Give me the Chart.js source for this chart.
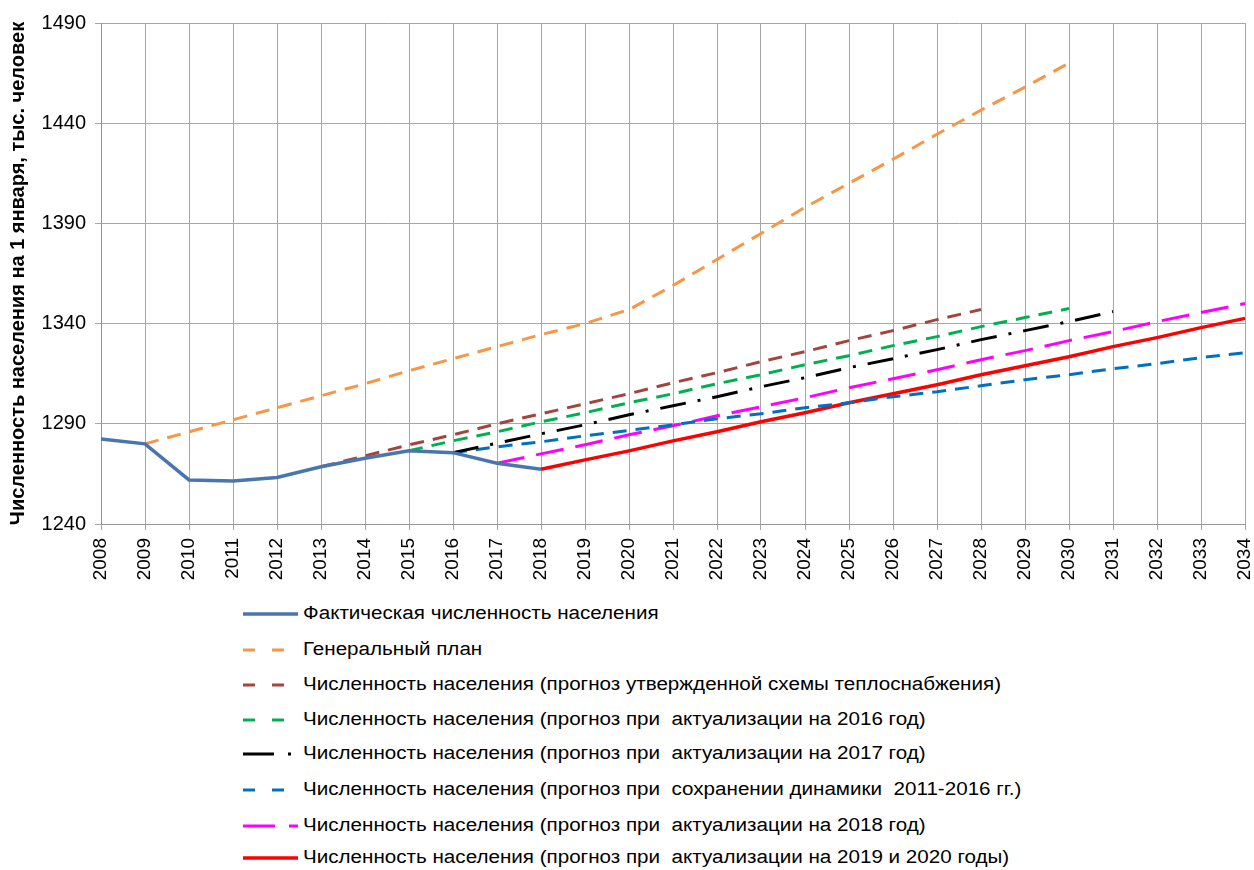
<!DOCTYPE html>
<html>
<head>
<meta charset="utf-8">
<script src="https://cdn.jsdelivr.net/npm/chart.js@4"></script>
<style>
  body { margin: 0; background: #fff; font-family: "Liberation Sans", Arial, sans-serif; }
  #wrap { position: absolute; left: 0; top: 0; width: 1254px; height: 590px; }
  #legend { position: absolute; left: 0; top: 0; }
  .row { position: absolute; left: 240px; height: 24px; white-space: pre; font-size: 18px; color: #000; }
  .row svg { position: absolute; left: 0; top: 6px; }
  .row span { position: absolute; left: 63px; top: 1px; transform: scaleX(1.145); transform-origin: 0 0; }
</style>
</head>
<body>
<div id="wrap"><canvas id="myChart"></canvas></div>
<div id="legend"></div>
<script>
  const years = [2008, 2009, 2010, 2011, 2012, 2013, 2014, 2015, 2016, 2017, 2018, 2019, 2020, 2021,
    2022, 2023, 2024, 2025, 2026, 2027, 2028, 2029, 2030, 2031, 2032, 2033, 2034]
  const yTicks = [1240, 1290, 1340, 1390, 1440, 1490]

  // each series: first year + values
  const actualStart = 2008
  const actual = [1282.4, 1280, 1262, 1261.5, 1263.2, 1268.6, 1272.8, 1276.6, 1275.6, 1270.3, 1267.3]

  const genplanStart = 2009
  const genplan = [1280, 1286, 1292, 1298, 1304, 1310, 1316.5, 1322.5, 1328.5, 1334.5, 1340, 1347,
    1359, 1372, 1385, 1398, 1410, 1422, 1434.5, 1446.5, 1458, 1470]

  const schemeStart = 2013
  const scheme = [1268.6, 1274, 1279.5, 1284.5, 1290, 1295, 1300, 1305, 1310.5, 1315.5, 1321, 1326,
    1331.5, 1336.5, 1342, 1347]

  const upd2016Start = 2015
  const upd2016 = [1276.6, 1281.5, 1286, 1291, 1295.5, 1300.5, 1305, 1310, 1314.5, 1319.5, 1324, 1329,
    1333.5, 1338.5, 1343, 1347.5]

  const upd2017Start = 2016
  const upd2017 = [1275.6, 1280.3, 1285, 1289.5, 1294.5, 1299, 1303.5, 1308.5, 1313, 1318, 1322.5, 1327,
    1332, 1336.5, 1341, 1346]

  const dynStart = 2016
  const dyn = [1275.6, 1278.5, 1281, 1284, 1286.7, 1289.5, 1292.5, 1295, 1298, 1300.5, 1303.5, 1306,
    1309, 1312, 1314.5, 1317.5, 1320, 1323, 1325.5]

  const upd2018Start = 2017
  const upd2018 = [1270.3, 1275, 1279.5, 1284.5, 1289, 1294, 1298.5, 1303, 1308, 1312.5, 1317, 1322,
    1326.5, 1331.5, 1336, 1341, 1345.5, 1350]

  const upd2019Start = 2018
  const upd2019 = [1267.3, 1272, 1276.5, 1281.5, 1286, 1291, 1295.5, 1300.5, 1305, 1309.5, 1314.5, 1319,
    1323.5, 1328.5, 1333, 1338, 1342.6]

  const seriesNames = [
    "Фактическая численность населения",
    "Генеральный план",
    "Численность населения (прогноз утвержденной схемы теплоснабжения)",
    "Численность населения (прогноз при  актуализации на 2016 год)",
    "Численность населения (прогноз при  актуализации на 2017 год)",
    "Численность населения (прогноз при  сохранении динамики  2011-2016 гг.)",
    "Численность населения (прогноз при  актуализации на 2018 год)",
    "Численность населения (прогноз при  актуализации на 2019 и 2020 годы)"
  ]

  function place(start, values) {
    return years.map(y => {
      const i = y - start
      return i >= 0 && i < values.length ? values[i] : null
    })
  }

  const styles = [
    { color: "#4a76ad", dash: [], width: 3.5, legend: "" },
    { color: "#f79646", dash: [14, 9], width: 3, legend: "12 17" },
    { color: "#a3453f", dash: [14, 9], width: 3, legend: "12 17" },
    { color: "#00b050", dash: [14, 9], width: 3, legend: "12 17" },
    { color: "#000000", dash: [26, 12, 3, 12], width: 3, legend: "31 14 3 20" },
    { color: "#0070c0", dash: [14, 9], width: 3, legend: "12 17" },
    { color: "#ff00ff", dash: [28, 12], width: 3, legend: "32 14" },
    { color: "#ff0000", dash: [], width: 3.5, legend: "" }
  ]

  const seriesData = [
    place(actualStart, actual),
    place(genplanStart, genplan),
    place(schemeStart, scheme),
    place(upd2016Start, upd2016),
    place(upd2017Start, upd2017),
    place(dynStart, dyn),
    place(upd2018Start, upd2018),
    place(upd2019Start, upd2019)
  ]

  const datasets = seriesData.map((d, i) => ({
    label: seriesNames[i],
    data: d,
    borderColor: styles[i].color,
    borderWidth: styles[i].width,
    borderDash: styles[i].dash,
    pointRadius: 0,
    fill: false,
    tension: 0,
    spanGaps: false
  }))

  const font = "'Liberation Sans', Arial, sans-serif"
  const ctx = document.getElementById("myChart").getContext("2d")
  new Chart(ctx, {
    type: "line",
    data: { labels: years.map(String), datasets: datasets },
    options: {
      responsive: true,
      maintainAspectRatio: false,
      animation: false,
      layout: { padding: { top: 23, right: 9, left: 0, bottom: 0 } },
      plugins: { legend: { display: false }, tooltip: { enabled: false } },
      scales: {
        x: {
          offset: false,
          grid: { color: "#a6a6a6", tickLength: 6, drawTicks: true },
          border: { color: "#969696" },
          ticks: { color: "#000", font: { family: font, size: 19 }, minRotation: 90, maxRotation: 90, autoSkip: false, padding: 8 },
          afterFit: s => { s.height = 66; s.paddingLeft = 0; s.paddingRight = 0 }
        },
        y: {
          min: 1240,
          max: 1490,
          afterBuildTicks: s => { s.ticks = yTicks.map(v => ({ value: v })) },
          grid: { color: "#a6a6a6", tickLength: 6 },
          border: { color: "#969696" },
          ticks: { color: "#000", font: { family: font, size: 20 }, padding: 9, callback: v => String(v) },
          title: {
            display: true,
            text: "Численность населения на 1 января, тыс. человек",
            color: "#000",
            font: { family: font, size: 20, weight: "bold" },
            padding: { top: 6, bottom: 0 }
          },
          afterFit: s => { s.width = 101; s.paddingTop = 0; s.paddingBottom = 0 }
        }
      }
    }
  })

  // legend below the chart
  const rowY = [614, 650, 685, 720, 754, 790, 826, 858]
  const legend = document.getElementById("legend")
  seriesNames.forEach((name, i) => {
    const row = document.createElement("div")
    row.className = "row"
    row.style.top = (rowY[i] - 12) + "px"
    const st = styles[i]
    const dash = st.legend ? `stroke-dasharray="${st.legend}"` : ""
    row.innerHTML = `<svg width="60" height="12"><line x1="3" y1="6" x2="58" y2="6" stroke="${st.color}" stroke-width="${st.width}" ${dash}/></svg><span></span>`
    row.querySelector("span").textContent = name
    legend.appendChild(row)
  })
</script>
</body>
</html>
